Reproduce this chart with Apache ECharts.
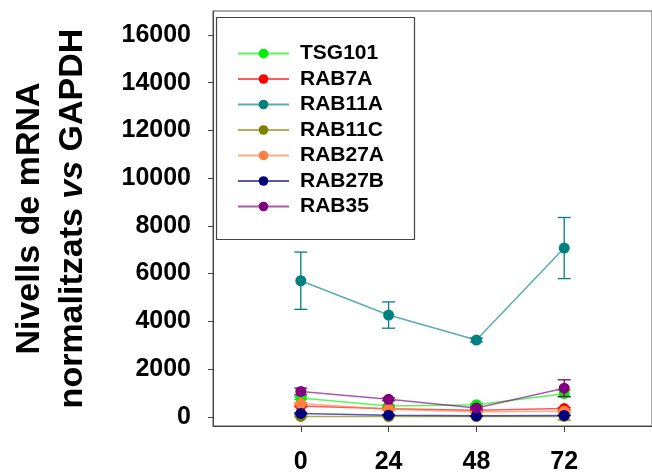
<!DOCTYPE html>
<html><head><meta charset="utf-8">
<script src="https://cdn.jsdelivr.net/npm/echarts@6/dist/echarts.min.js"></script>
<style>html,body{margin:0;padding:0;background:#fff}#c{width:652px;height:475px}</style>
</head><body><div id="c"></div>
<script>
var hours = [0, 24, 48, 72];
var xTicks = [0, 24, 48, 72];
var yTicks = [0, 2000, 4000, 6000, 8000, 10000, 12000, 14000, 16000];
var names = ['TSG101', 'RAB7A', 'RAB11A', 'RAB11C', 'RAB27A', 'RAB27B', 'RAB35'];
var colors = ['#00ee00', '#ff0000', '#008080', '#808000', '#ff8040', '#000080', '#800080'];
var TSG101 = [786, 455, 510, 968];
var RAB7A = [455, 340, 277, 347];
var RAB11A = [5700, 4262, 3215, 7070];
var RAB11C = [15, 10, 10, 15];
var RAB27A = [554, 318, 207, 236];
var RAB27B = [140, 70, 41, 60];
var RAB35 = [1063, 732, 372, 1200];
var errTSG101 = [60, 40, 40, 140];
var errRAB7A = [40, 30, 30, 40];
var errRAB11A = [1200, 550, 80, 1280];
var errRAB11C = [20, 10, 10, 150];
var errRAB27A = [40, 30, 20, 30];
var errRAB27B = [30, 10, 10, 10];
var errRAB35 = [140, 60, 40, 350];

var values = [TSG101, RAB7A, RAB11A, RAB11C, RAB27A, RAB27B, RAB35];
var errs = [errTSG101, errRAB7A, errRAB11A, errRAB11C, errRAB27A, errRAB27B, errRAB35];
var FONT = "'Liberation Sans', Arial, sans-serif";

var series = [];
names.forEach(function (n, i) {
  series.push({
    type: 'custom', name: n + '_err', silent: true, z: 2 + i,
    renderItem: function (params, api) {
      var x = api.value(0), y = api.value(1), e = api.value(2);
      var top = api.coord([x, y + e]), bot = api.coord([x, y - e]);
      var hw = 6.5;
      var st = { stroke: colors[i], lineWidth: 1.3 };
      return { type: 'group', children: [
        { type: 'line', shape: { x1: top[0], y1: top[1], x2: bot[0], y2: bot[1] }, style: st },
        { type: 'line', shape: { x1: top[0] - hw, y1: top[1], x2: top[0] + hw, y2: top[1] }, style: st },
        { type: 'line', shape: { x1: bot[0] - hw, y1: bot[1], x2: bot[0] + hw, y2: bot[1] }, style: st }
      ] };
    },
    data: hours.map(function (h, k) { return [h, values[i][k], errs[i][k]]; })
  });
  series.push({
    type: 'line', name: n, z: 3 + i,
    data: hours.map(function (h, k) { return [h, values[i][k]]; }),
    symbol: 'circle', symbolSize: 11,
    itemStyle: { color: colors[i] },
    lineStyle: { color: colors[i], width: 1.5, opacity: 0.65 },
    emphasis: { disabled: true }
  });
});

var chart = echarts.init(document.getElementById('c'));
chart.setOption({
  animation: false,
  grid: { left: 208, top: 11, right: -10, bottom: 44, show: true, borderColor: '#555', borderWidth: 1 },
  xAxis: {
    type: 'value', min: -24, max: 96, interval: 24,
    axisLine: { onZero: false, lineStyle: { color: '#444', width: 1 } },
    axisTick: { customValues: xTicks, length: 6, lineStyle: { color: '#444' } },
    axisLabel: { customValues: xTicks, margin: 24, color: '#000', fontSize: 25, fontWeight: 'bold', fontFamily: FONT,
      formatter: function (v) { return String(v); } },
    splitLine: { show: false }
  },
  yAxis: {
    type: 'value', min: -385, max: 17000,
    axisLine: { show: true, onZero: false, lineStyle: { color: '#444', width: 1 } },
    axisTick: { show: true, customValues: yTicks, length: 5, lineStyle: { color: '#444' } },
    axisLabel: { customValues: yTicks, margin: 22, color: '#000', fontSize: 25, fontWeight: 'bold', fontFamily: FONT,
      formatter: function (v) { return String(v); } },
    splitLine: { show: false },
    name: 'Nivells de mRNA\n{n|normalitzats }{i|vs}{n| GAPDH}',
    nameLocation: 'middle', nameRotate: 90, nameGap: 119,
    nameTextStyle: {
      color: '#000', fontSize: 34, fontWeight: 'bold', fontFamily: FONT, lineHeight: 43,
      rich: {
        n: { fontSize: 34, fontWeight: 'bold', fontFamily: FONT, color: '#000', lineHeight: 43 },
        i: { fontSize: 34, fontWeight: 'bold', fontStyle: 'italic', fontFamily: FONT, color: '#000', lineHeight: 43 }
      }
    }
  },
  legend: {
    orient: 'vertical', left: 237, top: 43, padding: 0, itemWidth: 51, itemHeight: 12, itemGap: 4.5,
    data: names,
    textStyle: { color: '#000', fontSize: 21, fontWeight: 'bold', fontFamily: FONT, padding: [0, 0, 0, 6] }
  },
  graphic: [{
    type: 'rect', shape: { x: 216.5, y: 17.5, width: 198, height: 222 },
    style: { fill: 'rgba(0,0,0,0)', stroke: '#444', lineWidth: 1.2 }, z: 100, silent: true
  }],
  series: series
});
</script></body></html>
